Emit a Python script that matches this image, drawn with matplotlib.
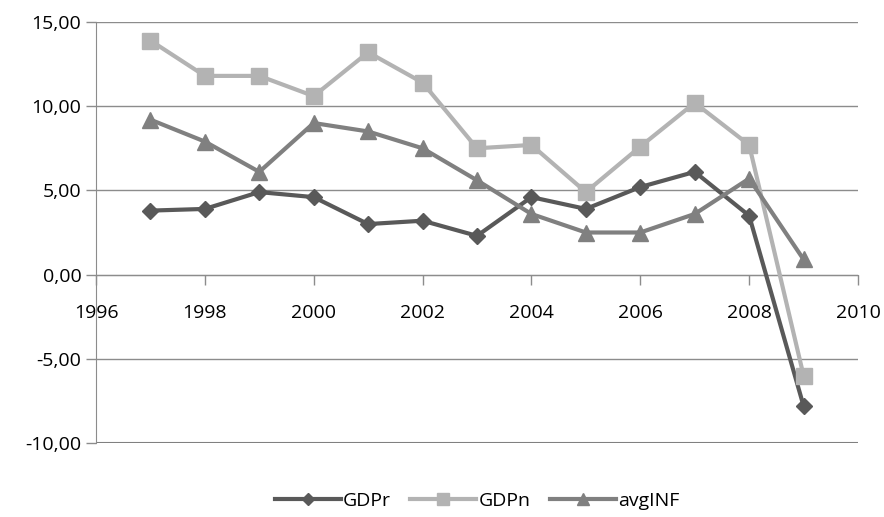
import matplotlib
matplotlib.use("Agg")
import matplotlib.pyplot as plt
from matplotlib.ticker import FuncFormatter

years = [1997, 1998, 1999, 2000, 2001, 2002, 2003, 2004, 2005, 2006, 2007, 2008, 2009]
gdpr = [3.8, 3.9, 4.9, 4.6, 3.0, 3.2, 2.3, 4.6, 3.9, 5.2, 6.1, 3.5, -7.8]
gdpn = [13.9, 11.8, 11.8, 10.6, 13.2, 11.4, 7.5, 7.7, 4.9, 7.6, 10.2, 7.7, -6.0]
avginf = [9.2, 7.9, 6.1, 9.0, 8.5, 7.5, 5.6, 3.6, 2.5, 2.5, 3.6, 5.7, 0.9]
xticks = [1996, 1998, 2000, 2002, 2004, 2006, 2008, 2010]
yticks = [-10, -5, 0, 5, 10, 15]

plt.rcParams['font.family'] = ['Open Sans', 'DejaVu Sans']

fig = plt.figure(figsize=(8.84, 5.17), dpi=100)
ax = fig.add_axes([96/884, 1-443/517, (858-96)/884, (443-22)/517])

ax.plot(years, gdpr, color='#595959', lw=3, marker='D', ms=8, label='GDPr', zorder=3)
ax.plot(years, gdpn, color='#b3b3b3', lw=3, marker='s', ms=11, label='GDPn', zorder=3)
ax.plot(years, avginf, color='#808080', lw=3, marker='^', ms=11, label='avgINF', zorder=3)

ax.set_xlim(1996, 2010)
ax.set_ylim(-10, 15)
ax.set_xticks(xticks)
ax.set_yticks(yticks)
ax.yaxis.set_major_formatter(FuncFormatter(lambda v, p: f"{v:.2f}".replace('.', ',')))
ax.grid(axis='y', color='#8c8c8c', lw=1)
ax.set_axisbelow(True)

for s in ['top', 'right']:
    ax.spines[s].set_visible(False)
ax.spines['bottom'].set_position(('data', 0))
ax.spines['bottom'].set_color('#8c8c8c')
ax.spines['left'].set_color('#8c8c8c')
ax.tick_params(axis='both', colors='#8c8c8c', length=7, width=1, labelsize=14, labelcolor='black')
ax.tick_params(axis='x', pad=14)
ax.axhline(-10, color='#808080', lw=1.5, zorder=1)

ax.legend(loc='upper center', bbox_to_anchor=(0.5, -0.075), ncol=3, frameon=False,
          fontsize=14, handlelength=3.4, columnspacing=1.0, handletextpad=0.1, markerscale=0.8)

fig.savefig('out.png', dpi=100)
